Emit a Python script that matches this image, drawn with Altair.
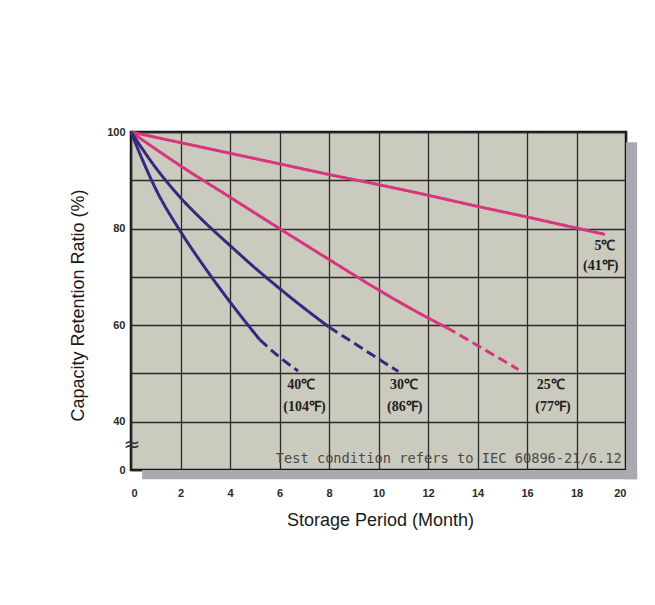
import altair as alt
import pandas as pd

# ---- data ----
m_5 = [0, 2, 4, 6, 8, 10, 12, 14, 16, 18, 19.15]
v_5 = [100, 97.8, 95.6, 93.4, 91.2, 89.1, 86.9, 84.6, 82.4, 80.1, 78.8]

m_25_solid = [0, 2, 4, 6, 8, 10, 12, 12.75]
v_25_solid = [100, 93.0, 86.5, 80.0, 73.6, 67.3, 61.5, 59.5]
m_25_dash = [12.75, 14, 15.65]
v_25_dash = [59.5, 55.8, 50.8]

m_30_solid = [0, 1, 2, 3, 4, 5, 6, 7, 8]
v_30_solid = [100, 92.6, 86.4, 81.2, 76.5, 71.9, 67.6, 63.5, 59.6]
m_30_dash = [8, 9, 10, 10.8]
v_30_dash = [59.6, 56.3, 53.0, 50.4]

m_40_solid = [0, 0.5, 1, 2, 3, 4, 5.2]
v_40_solid = [100, 93.8, 88.2, 79.4, 71.8, 64.8, 57.0]
m_40_dash = [5.2, 6, 6.75]
v_40_dash = [57.0, 53.4, 50.5]

curve_names = ["5", "25", "30", "40"]
curve_colors = ["#d7357c", "#d7357c", "#35287e", "#35287e"]

label_text = ["5℃", "(41℉)", "25℃", "(77℉)", "30℃", "(86℉)", "40℃", "(104℉)"]
label_month = [19.15, 18.98, 16.96, 17.05, 11.03, 11.06, 6.88, 7.01]
label_value = [76.3, 72.3, 47.7, 43.1, 47.7, 43.1, 47.7, 43.1]

note_text = ["Test condition refers to IEC 60896-21/6.12"]
note_month = [19.83]
note_value = [31.5]

break_text = ["≈"]
break_month = [0.04]
break_value = [35.2]

x_ticks = list(range(0, 21, 2))
y_ticks = [30, 40, 50, 60, 70, 80, 90, 100]

# shadow strips (outside the plot frame)
shadow_x = [20.0, 0.45]
shadow_x2 = [20.45, 20.45]
shadow_y = [97.9, 30.0]
shadow_y2 = [28.1, 28.1]

# ---- build tables ----
rows = []
def add(ms, vs, curve, style):
    for m, v in zip(ms, vs):
        rows.append({"month": m, "value": v, "curve": curve, "style": style})

add(m_5, v_5, "5", "solid")
add(m_25_solid, v_25_solid, "25", "solid")
add(m_25_dash, v_25_dash, "25", "dashed")
add(m_30_solid, v_30_solid, "30", "solid")
add(m_30_dash, v_30_dash, "30", "dashed")
add(m_40_solid, v_40_solid, "40", "solid")
add(m_40_dash, v_40_dash, "40", "dashed")
df = pd.DataFrame(rows)

labels = pd.DataFrame({"month": label_month, "value": label_value, "text": label_text})
note = pd.DataFrame({"month": note_month, "value": note_value, "text": note_text})
brk = pd.DataFrame({"month": break_month, "value": break_value, "text": break_text})
shadow = pd.DataFrame({"x": shadow_x, "x2": shadow_x2, "y": shadow_y, "y2": shadow_y2})

xscale = alt.Scale(domain=[0, 20], nice=False, zero=False)
yscale = alt.Scale(domain=[30, 100], nice=False, zero=False)

x_axis = alt.Axis(
    values=x_ticks, grid=True, gridColor="#2a2a2a", gridWidth=1.3, gridOpacity=1,
    domain=False, ticks=False, labelPadding=17, labelFont="Liberation Sans",
    labelFontSize=11, labelColor="#2a2a2a", labelFontWeight="bold",
    title="Storage Period (Month)", titleFont="Liberation Sans", titleFontSize=18,
    titleFontWeight="normal", titleColor="#1a1a1a", titleX=249, titleY=50,
    titleBaseline="middle", titleAlign="center",
)
y_axis = alt.Axis(
    values=y_ticks, grid=True, gridColor="#2a2a2a", gridWidth=1.3, gridOpacity=1,
    domain=False, ticks=False, labelPadding=6, labelFont="Liberation Sans",
    labelFontSize=11, labelColor="#2a2a2a", labelFontWeight="bold",
    labelExpr="datum.value == 30 ? '0' : (datum.value % 20 == 0 ? datum.label : '')",
    title="Capacity Retention Ratio (%)", titleFont="Liberation Sans", titleFontSize=18,
    titleFontWeight="normal", titleColor="#1a1a1a", titleX=-53, titleY=173,
    titleAngle=-90, titleBaseline="middle", titleAlign="center",
)

shadow_layer = alt.Chart(shadow).mark_rect(color="#a9aab0").encode(
    x=alt.X("x:Q", scale=xscale, axis=x_axis),
    x2="x2:Q",
    y=alt.Y("y:Q", scale=yscale, axis=y_axis),
    y2="y2:Q",
)

lines = alt.Chart(df).mark_line(strokeWidth=3, interpolate="monotone").encode(
    x=alt.X("month:Q", scale=xscale),
    y=alt.Y("value:Q", scale=yscale),
    color=alt.Color("curve:N", scale=alt.Scale(domain=curve_names, range=curve_colors), legend=None),
    strokeDash=alt.StrokeDash("style:N", scale=alt.Scale(domain=["solid", "dashed"], range=[[1, 0], [10, 5]]), legend=None),
    order="month:Q",
)

label_layer = alt.Chart(labels).mark_text(
    font="Liberation Serif", fontSize=14, color="#222", fontWeight="bold", baseline="middle"
).encode(x="month:Q", y="value:Q", text="text:N")

note_layer = alt.Chart(note).mark_text(
    font="DejaVu Sans Mono", fontSize=13.7, color="#4a4a4a", align="right", baseline="alphabetic"
).encode(x="month:Q", y="value:Q", text="text:N")

break_layer = alt.Chart(brk).mark_text(
    font="DejaVu Sans", fontSize=20, color="#333", baseline="middle"
).encode(x="month:Q", y="value:Q", text="text:N")

chart = alt.layer(shadow_layer, lines, label_layer, note_layer, break_layer).properties(
    width=495, height=338,
    padding={"left": 123, "top": 124, "right": 20, "bottom": 120},
    autosize=alt.AutoSizeParams(type="none"),
    background="white",
).configure_view(
    fill="#cacabe", stroke="#111", strokeWidth=2.5
)

chart.save("out.html", embed_options={"renderer": "svg", "actions": False})
